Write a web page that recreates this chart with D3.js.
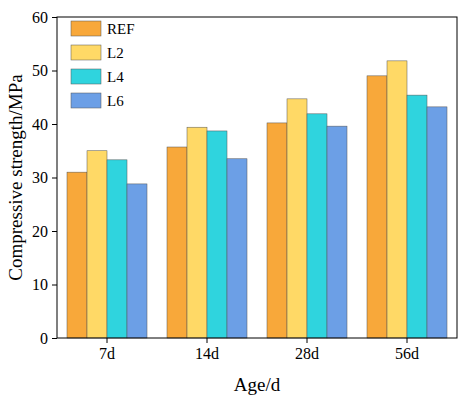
<!DOCTYPE html>
<html><head><meta charset="utf-8">
<script src="https://cdn.jsdelivr.net/npm/d3@7"></script>
<style>body{margin:0;background:#fff}text{font-family:"Liberation Serif",serif}</style>
</head><body><svg id="chart" width="474" height="403"></svg>
<script>
const ages = ["7d", "14d", "28d", "56d"];
const series = ["REF", "L2", "L4", "L6"];
const REF = [31.0, 35.7, 40.2, 49.0];
const L2 = [35.0, 39.4, 44.7, 51.8];
const L4 = [33.3, 38.7, 41.9, 45.4];
const L6 = [28.8, 33.5, 39.6, 43.2];
const colors = ["#f8a83a", "#ffd966", "#2fd4de", "#6c9fe6"];
const values = [REF, L2, L4, L6];

const svg = d3.select('#chart');
const m = {l: 57, r: 17, t: 17, b: 65};
const W = 474 - m.l - m.r, H = 403 - m.t - m.b;
const g = svg.append('g').attr('transform', `translate(${m.l},${m.t})`);
const x = d3.scaleBand().domain(ages).range([0, W]).paddingInner(0.2).paddingOuter(0.1);
const xs = d3.scaleBand().domain(series).range([0, x.bandwidth()]);
const y = d3.scaleLinear().domain([0, 60]).range([H, 0]);

series.forEach((s, i) => {
  g.selectAll(null).data(values[i]).join('rect')
    .attr('x', (d, j) => x(ages[j]) + xs(s))
    .attr('y', d => y(d))
    .attr('width', xs.bandwidth())
    .attr('height', d => H - y(d))
    .attr('fill', colors[i])
    .attr('stroke', '#555').attr('stroke-width', 0.5);
});

const ya = g.append('g').call(d3.axisLeft(y).ticks(6).tickSize(5).tickPadding(4));
const xa = g.append('g').attr('transform', `translate(0,${H})`).call(d3.axisBottom(x).tickSize(5).tickPadding(5));
[ya, xa].forEach(a => { a.selectAll('text').attr('font-size', 16).attr('fill', '#000').style('font-family', '"Liberation Serif",serif'); a.select('.domain').remove(); });
g.append('rect').attr('width', W).attr('height', H).attr('fill', 'none').attr('stroke', '#000');

svg.append('text').attr('transform', `translate(22,${m.t + H / 2}) rotate(-90)`).attr('text-anchor', 'middle').attr('font-size', 19).text('Compressive strength/MPa');
svg.append('text').attr('x', m.l + W / 2).attr('y', 391).attr('text-anchor', 'middle').attr('font-size', 19).text('Age/d');

const lg = g.append('g').attr('transform', 'translate(14,4)');
series.forEach((s, i) => {
  lg.append('rect').attr('x', 0).attr('y', i * 24).attr('width', 30).attr('height', 15).attr('fill', colors[i]).attr('stroke', '#555').attr('stroke-width', 0.5);
  lg.append('text').attr('x', 36).attr('y', i * 24 + 13).attr('font-size', 15).text(s);
});
</script></body></html>
